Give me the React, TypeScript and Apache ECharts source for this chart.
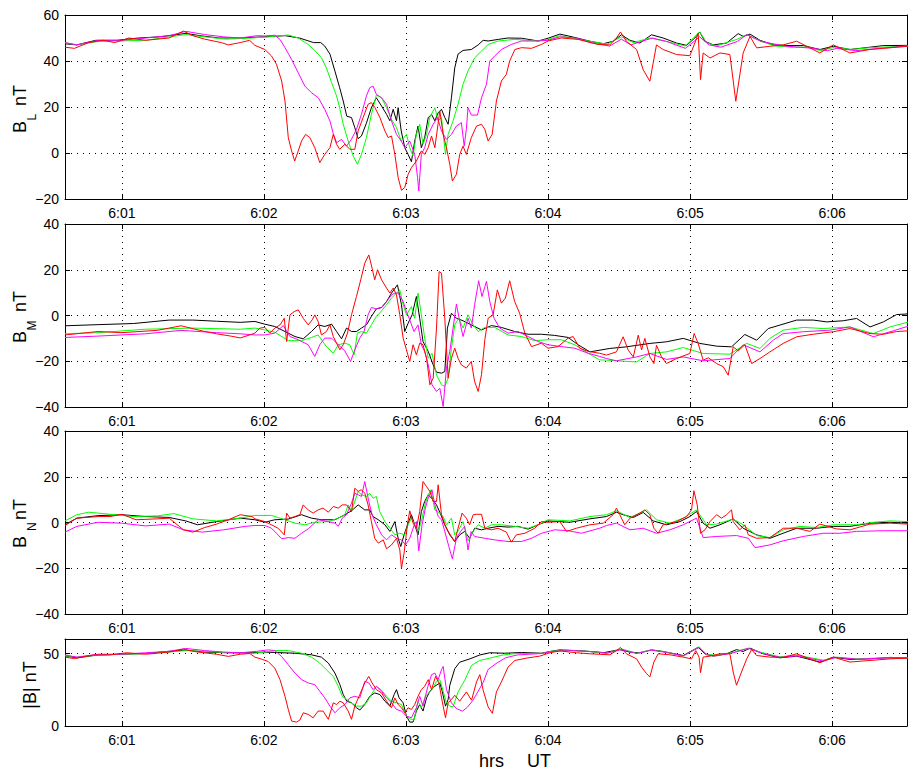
import React, { useEffect, useRef } from 'react';
import * as echarts from 'echarts';

// time in seconds after 06:00:00, value in nT  (flat: t, v, t, v, ...)
const xTickLabels = ['6:01', '6:02', '6:03', '6:04', '6:05', '6:06'];
const tStart = 36;
const tEnd = 391.6;
const seriesNames = ['C1', 'C2', 'C3', 'C4'];
const seriesColors = ['#000000', '#00ff00', '#ff00ff', '#ff0000'];

const blBlack = [36,47.5, 41,47, 49,49, 58,49, 67,50, 76,50.5, 87,52, 93,51, 101,50, 110,50, 120,50.5, 129,51, 135,50, 141,48, 144,48, 145.7,46.5, 147.9,43, 150,35.6, 152,28.4, 153.5,22.6, 155,16, 157,15.4, 158.4,11, 159.8,6.2, 161.2,7.4, 163.3,13, 165.4,19.7, 167.5,24, 169.7,20.4, 171.8,16.8, 173.2,14, 174.6,19, 176,14, 176.7,19.7, 178,9.6, 179.5,2.3, 180.9,-0.6, 182.3,-3.8, 183.7,5.2, 185.1,11.7, 186.5,2.3, 187.9,6.7, 189.4,15.4, 190.8,16.8, 192.2,14, 193.6,17.5, 195,19, 196.4,15.4, 197.8,12.5, 199.2,24, 200.6,37, 202,43, 204.1,44.6, 207.6,45, 210.5,47, 212.6,49, 214.7,48.7, 219,49.4, 223,50, 228.8,49.9, 235.8,48.7, 240,49.9, 245,51.7, 250.6,50.4, 257.7,48.6, 263.3,47.5, 267.5,48.6, 271,51.4, 274.6,49, 278.8,47.8, 283.7,51.4, 288.6,50, 294.3,47.8, 298.5,46.8, 302,50, 304.1,52.6, 306.2,48.6, 309.8,47, 315.4,47.8, 320.3,51.9, 322.4,50.7, 325.3,51.7, 329.5,49, 335.1,47, 342.2,46.7, 347.8,46.7, 354.8,45, 360.5,46.4, 367.5,45, 376,46, 381.6,46.7, 392,46.8];
const blGreen = [36,48, 41,47, 50,48.5, 70,49, 87,51.5, 95,50.5, 104,49.5, 115,50, 122,50.5, 130.3,51.3, 134.5,50, 138.7,47.2, 141.5,44.6, 144.3,41.4, 146.4,37, 148.6,30.6, 150.7,24.8, 152,19.7, 153.5,12.5, 155.6,5.2, 157.7,-1.3, 159.5,-4.9, 161.2,-0.6, 163.3,6.7, 165.4,16.8, 167.5,25.2, 169.7,24, 171.8,19.7, 173.9,14.6, 176,11, 178,5.2, 180.2,8.1, 181.6,2.3, 183,-1.3, 184.4,8.1, 185.8,12.5, 187.2,3.8, 188.7,8.1, 190,15.4, 192.2,19.7, 193.6,14, 195,15.4, 196.7,-0.6, 197.8,8.1, 199.9,14, 202,21.2, 204.1,29.9, 206.2,35.7, 209,41.4, 211.9,44.3, 214.7,47.2, 219,48.7, 226,49.4, 235.8,48.7, 240,49.4, 245,51, 250,50, 258,48.5, 265,47.3, 271,50.5, 276,48, 283,50, 290,48.5, 298,46.5, 304,52.7, 307,48, 311,46.5, 320,49.5, 324,51.5, 330,48.5, 336,46.5, 343,46, 350,46, 355,44.5, 361,46, 368,45, 376,45.8, 392,46.5];
const blMagenta = [36,48, 41,47, 50,49, 60,49, 70,50, 80,51, 87,52.9, 95,51.5, 103,50.5, 110,50, 117,51, 120.4,50.9, 124.6,51.2, 126.8,49.4, 128.9,45.8, 131.7,40.7, 134.5,34.9, 137.3,29.1, 140.1,26.2, 143,24, 145.7,19, 147.9,13.9, 149.3,8.4, 150.7,4.5, 152.8,5.9, 154.9,3, 157,6, 159.1,10.3, 161.2,16.8, 163.3,24.8, 164.7,28.4, 166.1,29.1, 167.5,25.5, 169.7,24, 171.8,21.2, 173.9,13.9, 176,8.1, 178,5.2, 179.5,2.3, 181.6,5.2, 183.7,-0.6, 184.9,-10.7, 185.4,-16.5, 186.5,-0.6, 187.9,2.3, 189.4,8.1, 191.5,12.5, 193.3,15.4, 195,9.6, 197.1,5.9, 199.2,8.1, 201.3,11.7, 203.4,13.2, 204.6,3, 205.5,10.3, 206.2,19.7, 207.6,16.5, 210.2,16.5, 211.9,24, 214,29.9, 215.4,40, 217.5,42.2, 220.3,45, 224.5,47.2, 228.8,48.7, 235.8,48.7, 240,49, 245,50.5, 252,50, 258,48, 266,46.5, 271,49.5, 275,47, 284,50, 290,48.5, 298,45.5, 304,50.5, 308,47, 313,46, 320,48.5, 324,51.5, 330,48.5, 340,46.5, 352,45.5, 358,44.5, 362,45.5, 370,44.5, 380,45.5, 392,46.5];
const blRed = [36,46, 40,45.5, 46,48, 52,49, 57,48, 63,50, 70,49, 80,50, 84,52, 86,53, 90,51, 95,49.5, 102,48, 105,47, 110,48, 114,49, 116.2,46.8, 120.4,45, 123.2,42.2, 125.3,38.6, 127.5,31.3, 128.9,22.6, 130.3,6.7, 131.7,0.9, 133,-3.5, 134.5,0.9, 135.9,5.2, 137.6,8.1, 139.4,6.7, 141.5,2.3, 143.6,-4.2, 145.7,-0.6, 147.9,2.3, 149.3,8.1, 150.7,3.8, 152,1.6, 154.2,3.8, 156.3,1.6, 158.4,1.6, 159.8,9.6, 161.9,15.4, 164,21.2, 165.4,21.9, 166.9,19.7, 169,15.4, 171.1,9.6, 172.5,6.7, 173.9,7.4, 175.3,-0.6, 176.7,-10.7, 178.1,-16.2, 179.5,-15, 180.9,-9.3, 182.3,-6.4, 184.4,-3.5, 186.5,0.9, 187.9,-0.6, 189.4,2.3, 190.8,7.4, 192.2,2.3, 194.3,18.3, 195.7,8.1, 197.1,2.3, 198.5,-4.9, 199.6,-12.2, 201.3,-9.3, 202.7,-0.6, 204.1,3, 205.5,-0.6, 207.6,6.7, 209.8,11.7, 211.9,12.5, 213.3,10.3, 214.7,5.2, 216.4,8.1, 218.2,22.6, 220.3,31.3, 222.4,34.2, 223.8,40, 226,45, 228.8,45.8, 233,45.5, 237.2,47.2, 240,48.7, 245.6,50, 252.7,49.4, 261.1,47.2, 266.1,47, 268.9,50, 270.6,52.6, 273.1,48.6, 277.4,45, 280.2,36.2, 283,31.2, 284.4,39.1, 285.8,47, 288.6,45, 294.3,42.8, 299.9,42.3, 302,47.8, 303.4,52, 304.4,31.9, 305.5,43.5, 308.4,41.3, 312.6,43.5, 316.8,42.8, 319.3,22.5, 322.4,43.5, 325.3,50.7, 328.1,45.7, 333.7,46.4, 339.3,47, 345,48.6, 350.6,45.7, 354.8,43.5, 360.5,47, 367.5,43.5, 376,45, 381.6,45.5, 392,46.4];

const bmBlack = [36,-4.5, 50,-4, 65,-3.5, 80,-2, 90,-2, 100,-2.5, 110,-3, 116.2,-2.6, 120.4,-3.8, 124.6,-4.8, 128.9,-7, 133.1,-9.2, 136.6,-10.2, 140.1,-7, 142.9,-4.1, 145.7,-4.8, 148.6,-3.8, 150.7,-7, 152.8,-10.2, 154.9,-5.5, 157,-7, 159.1,-7, 161.2,-5.5, 163.3,-4.1, 165.4,-0.4, 167.5,2.9, 169.7,3.5, 171.8,6.1, 173.9,9.8, 176.4,13.4, 178.1,4.7, 179.5,-7, 180.9,-3.4, 182.6,0.3, 184.4,8.3, 185.8,-1.2, 187.2,-11.4, 189.4,-15.7, 191.5,-21.6, 192.9,-24.8, 195,-25.2, 196.4,-24.5, 197.5,-5.5, 199.2,1, 201.3,-1.2, 204.1,-2.3, 207.6,-4.1, 211.9,-6.3, 216.1,-4.4, 220.3,-5.2, 225.9,-7, 231.6,-8.2, 237.2,-8.2, 242.8,-8.7, 248.5,-9.6, 252.7,-12.8, 257.7,-15.9, 266.1,-14.4, 273.1,-13.7, 283,-12.2, 290,-11.5, 297.1,-10, 304.1,-12.2, 311.2,-13.4, 317.5,-13.7, 323.1,-8.3, 328.1,-10.8, 333,-5.7, 337.9,-4.2, 345,-2, 352,-2, 357.7,-2.8, 364.7,-2.3, 370.3,-1.3, 376,-5, 381.6,-2.8, 387.2,0.4, 392,0.7];
const bmGreen = [36,-8, 50,-7.5, 70,-6, 90,-5.5, 110,-6, 116.2,-5.5, 120.4,-6.3, 124.6,-7.3, 130.3,-11, 135.9,-11, 140.1,-9.6, 142.9,-8.5, 146.4,-13.6, 149.3,-16.5, 151.4,-12.8, 154.2,-12.1, 156.3,-12.8, 158.1,-17.2, 159.5,-7.7, 161.2,-7, 163.3,-7.7, 165.4,-4.1, 167.5,-0.4, 169.7,2, 171.8,4.7, 173.9,7.6, 176,9.8, 177.4,11.2, 178.8,4.7, 180.2,0.3, 182.3,3.9, 183.7,-1.2, 185.1,9.8, 186.5,0.3, 187.9,-9.9, 189.4,-18.7, 191,-16.5, 192.9,-26, 195,-30.3, 196.4,-31, 197.8,-27.4, 199.2,-14.3, 200.6,-4.1, 202.3,-1.2, 204.1,-5.5, 206.2,0.3, 208.4,-4.1, 210.5,-7, 213.3,-5.2, 217.5,-5.2, 223.1,-8.5, 228.8,-9.2, 234.4,-11, 240,-10.6, 245.6,-10.6, 251.3,-12.8, 256.9,-16.5, 261.8,-19.4, 264.7,-19.5, 268.9,-19.8, 277.4,-20.3, 283,-16.6, 290,-15.9, 297.1,-14, 305.5,-16.6, 316.8,-16.9, 323.9,-12.2, 329.5,-14.4, 333.7,-10, 339.3,-6.4, 347.8,-5.2, 356.2,-5.7, 367.5,-5, 377.4,-7.9, 384.4,-5, 392,-2.9];
const bmMagenta = [36,-9.6, 50,-9, 70,-8, 85,-6.5, 100,-7.5, 110,-8, 116.2,-8.5, 120.4,-8.5, 124.6,-7.7, 128.2,-4.4, 131,-9.2, 134.5,-10.6, 138.7,-12.8, 141.5,-17.9, 143.6,-12.8, 145.7,-9.9, 148.6,-9.9, 151.4,-12.8, 154.2,-15.5, 156.6,-20.1, 158.4,-15, 160.5,-9.9, 162.3,-7, 164,0.3, 165.4,3.5, 167.5,2.9, 169.7,3.5, 171.8,6.1, 173.9,9, 175.3,9.8, 176.7,9.8, 178.8,6.1, 180.2,1.7, 181.6,-1.9, 183.4,-7, 185.1,-4.1, 186.5,-12.8, 187.9,-15.7, 189.4,-21.6, 191,-30.3, 192.9,-33.2, 194.3,-31.8, 195.7,-39.8, 197.1,-23, 198.5,-15.7, 199.9,-5.5, 201.3,5, 202.7,-2.6, 204.1,-9.2, 206.2,-1.2, 207.6,-5.5, 209,4.7, 210.7,15.2, 212.1,8.3, 214,14.9, 215.4,6.1, 217.2,-1.2, 219.6,-5.5, 223.1,-7.7, 227.3,-7, 231.6,-9.2, 235.8,-11.4, 240,-12.8, 245.6,-13.6, 251.3,-14.3, 256.9,-16.5, 261.8,-17.9, 264.7,-18.8, 268.9,-19.8, 277.4,-18.1, 283,-16.6, 290,-19.2, 297.1,-18.1, 305.5,-19.8, 316.8,-18.8, 322.4,-12.8, 329.5,-15.9, 335.1,-10.8, 339.3,-7.9, 347.8,-7.1, 359.1,-6.4, 367.5,-5, 377.4,-9.3, 385.8,-6.7, 392,-4.7];
const bmRed = [36,-8.5, 50,-7, 60,-7.5, 75,-6.5, 85,-4.5, 95,-7, 100,-8, 106,-9, 110,-9.8, 114,-8.5, 116.2,-7.7, 118.3,-5.5, 120.4,-5.2, 122.5,-7.7, 124.6,-5.5, 126.8,-4.1, 128.6,-1.2, 129.6,-11.4, 131,0.3, 132.8,1.7, 134.5,2.5, 136.6,-1.2, 138.7,-4.1, 140.4,-1.9, 141.5,0.3, 142.9,-2.6, 144.3,-8.5, 146.4,-7, 147.9,-4.1, 149.3,-9.2, 150.7,-12.1, 152.1,-15, 153.5,-12.8, 155.3,-7.7, 157,0.3, 159.1,8.3, 160.9,15.6, 162.6,22.9, 164.3,26.5, 165.7,20.7, 166.8,15.6, 168,20, 169.7,15.6, 171.8,12, 173.2,9.8, 174.6,12, 176,9, 177.4,0.3, 178.8,-9.9, 180.2,-15, 181.6,-20.1, 183,-12.8, 184.4,-17.2, 185.8,-12.1, 187.2,-12.8, 188.7,-18.7, 190.1,-30.3, 191.5,-27.4, 192.9,-5.5, 194,19.2, 195,18.5, 196.4,-1.2, 197.8,-27.4, 199.2,-18.7, 200.6,-14.3, 202,-18.7, 203.4,-21.6, 205.5,-23, 207.6,-20.1, 209,-28.9, 210.5,-33.2, 211.9,-25.9, 213.3,-10.6, 214.7,-1.2, 216.8,0.3, 218.6,11.2, 220.3,5.4, 222,7.6, 223.8,15.2, 225.9,6.1, 228,1, 230.2,-7.7, 233,-13.6, 237.2,-12.1, 240,-14.3, 244.2,-13.6, 248.5,-9.9, 250.6,-9.2, 253.4,-14.3, 256.9,-15.7, 261.8,-16.5, 264.7,-17.3, 268.9,-15.9, 271.7,-9.3, 273.9,-15.2, 276,-18.1, 278.1,-8.6, 279.5,-15, 280.9,-10, 283,-18.1, 284.7,-21, 285.8,-13, 287.9,-18, 290,-21, 294.3,-18.8, 299.9,-16.6, 301.7,-7.9, 303.4,-12.2, 305.5,-19.5, 307.7,-18.5, 311.2,-21, 314,-22.4, 316.1,-26.1, 318.2,-13.7, 320.3,-15.5, 323.1,-12.8, 326,-21, 329.5,-18.8, 333.7,-15.9, 339.3,-12.2, 345,-9.3, 352,-8.2, 360.5,-7.1, 367.5,-5.7, 376,-7.9, 381.6,-8.2, 387.2,-7, 392,-6.7];

const bnBlack = [36,-1, 41,1.9, 50,3, 60,3.4, 70,2.6, 80,2.2, 87,0.7, 92,-1, 100,0.4, 110,1.9, 116.2,1.2, 120.4,0.1, 124.6,1.2, 130.3,1.5, 135.9,3.4, 140.1,1.9, 144.3,1.2, 150,1.2, 154.2,3.4, 157,5.1, 159.8,7.7, 162.6,5.5, 164.7,5.5, 166.1,2.6, 168.3,1.2, 171.1,-1, 173.2,-3.9, 175.3,0.4, 176.7,-6.9, 177.8,-10.5, 179.2,-5.4, 180.9,-0.3, 182.3,3.4, 183.7,-1, 185.1,-5.4, 186.5,4.8, 187.9,9.2, 189.4,12.1, 190.8,10.6, 192.9,7.7, 194.3,4.5, 196.4,-1, 198.5,-5.4, 200.6,-8.3, 202.7,-5.4, 204.8,-3.9, 206.9,-6.9, 209,-2.5, 211.9,-3.2, 214.7,-2.5, 218.9,-1.7, 223.1,-2, 227.3,-1.7, 231.6,-2.9, 235.8,-1, 240,0.7, 249.2,0.1, 257.7,1.6, 264.7,2.6, 268.9,4.5, 271.7,3.4, 276,2.2, 280.2,4.4, 284.4,0.7, 290,-1, 295.7,0.4, 299.9,2.6, 302.7,4.8, 305.5,-0.3, 308.4,-2.5, 312.6,-1, 318.2,1.6, 322.4,-2.5, 328.1,-5.4, 333.7,-6.9, 339.3,-4.7, 345,-2.5, 353.4,-2.5, 360.5,-1.7, 367.5,-1.7, 376,-0.3, 384.4,0.1, 392,-0.3];
const bnGreen = [36,0.7, 41,3.4, 46,4.5, 55,3.6, 65,2.6, 75,2.9, 82,3.9, 90,1.6, 100,0.7, 110,1.9, 116.2,3.1, 123.2,3.1, 128.9,1.2, 133.1,-0.3, 137.3,-1, 141.5,0.1, 147.2,0.4, 151.4,1.9, 154.2,3.4, 155.6,7.7, 157,5.1, 158.4,9.2, 159.8,13.6, 161.2,12.1, 163.3,11.4, 164.7,12.8, 166.1,10.6, 167.5,11.4, 168.9,4.8, 171.1,0.4, 173.2,-2.5, 175.3,-5.4, 177.4,-4.7, 179.5,-5.4, 180.9,-1, 182.3,1.9, 183.7,-1, 185.1,-3.9, 186.5,0.4, 188.2,8.5, 189.4,12.1, 190.5,14.3, 192.2,5.5, 194.3,4.1, 195.7,2.6, 197.1,-1, 199.2,1.9, 200.6,-5.4, 202.3,-3.2, 204.1,0.4, 206.2,-8, 208.4,-3.9, 210.5,-1, 213.3,-2.5, 216.1,-1, 220.3,-1, 225.9,-1.7, 231.6,-2.5, 235.8,-1, 240,1.2, 249.2,0.7, 257.7,2.6, 264.7,3.4, 268.9,5.1, 274.6,2.2, 281.6,5.5, 285.8,1.2, 291.5,-0.3, 297.1,1.9, 302.7,5.5, 307,-1, 311.2,-0.7, 318.2,1.5, 322.4,-1, 328.1,-5.7, 333.7,-6.6, 339.3,-3.2, 346.4,-1.7, 353.4,-2.2, 360.5,-1, 370.3,-1, 377.4,0.1, 384.4,0.7, 392,0.4];
const bnMagenta = [36,-4.2, 41,-1.7, 50,0.1, 60,-0.3, 70,-1.5, 80,-0.7, 86,-3.2, 94,-4.2, 103,-3.2, 112,-1.7, 116.2,-1.3, 120.4,-1.3, 123.2,-2.5, 125.3,-4.7, 127.5,-7.1, 130.3,-6.6, 133.1,-6.9, 135.9,-4.7, 138.7,-2.8, 142.9,1.2, 147.2,0.4, 150,-0.3, 151.4,-1.7, 153.1,1.9, 154.9,3.4, 157,8.5, 158.4,12.8, 159.8,12.1, 161.2,11.4, 162.6,17.9, 164.3,9.2, 165.7,3.4, 167.5,-1, 169.7,-5.4, 171.8,-7.6, 173.9,-5.4, 176,-6.9, 178.1,-7.6, 179.8,-9.8, 181.6,-6.9, 183.5,-1, 184.4,0.4, 185.4,-12.4, 186.8,-1, 188.2,6.3, 189.6,11.4, 191,14.3, 192.2,7.7, 193.6,2.6, 195,1.2, 196.4,-3.9, 198.1,-10.5, 199.6,-15.9, 201.3,-6.9, 203.1,-3.9, 204.8,-1.7, 206.2,-12, 207.5,-4, 209,-6.1, 213.3,-6.9, 217.5,-7.6, 223.1,-8.3, 228.8,-8.3, 233,-6.9, 237.2,-4.7, 242.8,-3.2, 248.5,-3.6, 254.1,-4.7, 261.8,-2.5, 264.7,-1.3, 268.9,-0.3, 274.6,-3.2, 280.2,-2.5, 285.8,-4.7, 291.5,-3.2, 297.1,-1, 302.7,1.9, 305.5,-6.6, 311.2,-6.1, 319.6,-5.7, 324.6,-6.9, 327.4,-11, 333.7,-9.8, 339.3,-8, 347.8,-6.1, 356.2,-4.7, 363.3,-4.7, 370.3,-3.9, 381.6,-3.6, 392,-3.6];
const bnRed = [36,-1.3, 41,1.9, 50,2.6, 55,2.6, 60,3.6, 66,1.2, 75,1.6, 80,1.9, 86,-3.2, 90,-4.2, 95,-2.2, 100,-0.7, 105,1.2, 110,3.4, 115,2.6, 116.2,1.6, 120.4,0.4, 123.2,-1, 126,-2.5, 128.6,-5.4, 129.6,4.1, 131,1.9, 133.1,2.6, 135.2,3.4, 136.6,7.7, 138.7,5.5, 140.8,4.1, 142.9,5.5, 145,6.3, 147.2,4.5, 149.3,7, 151.4,6.3, 153.1,7.7, 154.9,7.7, 157,4.8, 158.4,15, 159.8,13.6, 161.2,14.3, 162.6,12.8, 164,7.7, 165.4,0.4, 166.8,-6.9, 168.3,-9, 170.4,-7.6, 171.8,-11.5, 173.9,-9.8, 176,-6.9, 177.4,-12, 178.1,-20, 179.2,-13.4, 180.6,-1, 181.6,5.1, 183,-0.3, 184.4,-2.5, 185.8,4.8, 187.2,17.9, 188.7,15.7, 190.1,13.6, 191.5,9.2, 192.9,9.2, 193.6,16.5, 195,3.4, 196.4,-1, 197.8,-3.9, 199.2,-6.1, 200.6,-8.3, 202,-2.5, 203.7,4.1, 205.5,1.9, 206.9,-1, 208.4,3.4, 209.8,3.6, 211.9,3.6, 213.3,-2.5, 216.1,-3.2, 218.9,-2.5, 222.4,-4.2, 224.5,-8.6, 226.6,-5.4, 230.2,-4.7, 234.4,-2.5, 237.2,0.4, 240,0.1, 245,0.4, 247.8,-3.9, 252,-2.5, 257.7,-1, 263.3,-0.3, 267.5,3.4, 268.9,6.3, 270.3,3.4, 272.4,-1, 274.6,1.9, 278.8,4.1, 280.9,5.5, 283,3.4, 284.7,-2.5, 286.5,-4.7, 288.6,-1, 294.3,0.4, 298.5,2.6, 300.6,5.5, 301.6,13.9, 303,7.7, 304.4,-4.7, 306.3,-3.2, 308.4,0.4, 311.2,3.4, 313.3,1.9, 315.4,3.4, 317.5,5.5, 318.2,0.4, 321,-3.2, 323.1,-1, 324.6,-5.4, 328.1,-6.9, 333.7,-6.6, 339.3,-2.5, 345,-2.5, 350.6,-3.9, 354.8,-0.7, 361.8,-2.8, 367.5,-3.2, 376,-0.7, 384.4,-0.3, 392,-0.7];

const btBlack = [36,48.4, 41,47, 50,49, 60,49.5, 70,50, 80,51.5, 87,52.3, 95,51, 105,50.5, 115,50.5, 120,51, 124.6,50.7, 133.1,50.2, 140.1,49.1, 144.3,47.5, 147.2,43.4, 150,36.5, 152.1,28.5, 153.5,21.7, 155,17.1, 157,16, 159.1,12.6, 160.5,11, 162.6,14.8, 164.7,20.5, 166.8,22.8, 169,21.7, 171.1,17.1, 173.2,13.7, 175,21.7, 176,25.1, 177.1,19.4, 178.8,16, 180.2,6.8, 181.6,2.7, 183,2.7, 184.4,10.3, 185.8,14.8, 187.2,10.3, 188.7,19.4, 190.1,24, 192.2,27.4, 194.3,29.7, 195.3,24, 196.7,13.7, 197.8,18.3, 198.5,28, 200.6,39.5, 202.7,44, 207,46.3, 211.2,49, 215.4,50.5, 221.7,50.2, 228.8,50.7, 237.2,50.2, 240.8,51.4, 245,52.5, 254.8,51.8, 263.3,50.5, 270.3,52.7, 274.6,50.9, 278.8,50.5, 283.7,52.5, 288.6,51.4, 297.1,48.6, 303.4,54.3, 306.2,49.8, 309.8,48.2, 315.4,49.8, 319.6,52.7, 322.4,51.4, 325.3,53.7, 330.9,49.8, 337.9,47, 345,48.2, 354.8,44.1, 360.5,47.5, 367.5,45.9, 376,46.3, 384.4,47.3, 392,47];
const btGreen = [36,48.5, 41,47.5, 50,49, 60,49.5, 70,50, 80,51, 87,52, 95,51.5, 105,50.5, 115,50, 120,51, 124.6,52, 130.3,52, 135.9,50.2, 140.1,47.5, 143.6,43.4, 146.4,38.8, 149.3,34.2, 151.4,27.4, 153.1,20.5, 155,18.3, 157,16, 159.1,13.7, 161.2,13.7, 163.3,16, 165.4,21.7, 167.5,27.4, 169.7,24.7, 171.8,20.5, 173.9,17.1, 176,16, 178.1,14.8, 180.2,6.8, 181.6,5, 183.4,4, 185.1,17.1, 186.5,12.6, 188.2,20.5, 189.6,22.8, 191,25.1, 192.9,30.8, 194.3,32, 195.7,24, 197.1,16, 198.5,13.7, 199.9,13.2, 202,23.5, 204.8,31.5, 207.7,41.8, 211.2,45.2, 215.4,46.8, 221,49, 226.7,50, 237.2,50, 240.8,51.4, 246.4,52.3, 257.7,51.4, 264.7,50, 271,53.2, 277.4,50.2, 283.7,52.5, 290,50.9, 297.1,48.2, 303.8,54.6, 307,49.3, 311.2,48.9, 318.2,50.7, 321,52.3, 324.6,53.4, 330.2,50.7, 337.9,47.7, 345,48.9, 356.2,45.4, 361.8,47.5, 370.3,46.3, 381.6,47, 392,47];
const btMagenta = [36,49, 41,47.5, 50,49.5, 60,49.5, 70,50.5, 80,51.5, 87,53.5, 95,52, 103,51, 110,50.5, 117,51.5, 121.8,52.5, 124.6,52, 127.5,47.9, 130.3,42.2, 133.1,36.5, 135.9,32, 138.7,29.7, 141.5,28.5, 143.6,24, 145.7,19.4, 147.9,13.7, 150,9.1, 152.1,12.6, 154.2,14.8, 156.3,19.4, 158.4,20.5, 160.5,19.4, 162.6,30.8, 164.3,29.7, 166.1,25.1, 167.5,27.4, 169.7,24, 171.8,19.4, 173.9,16, 176,11.4, 178.1,10.3, 180.2,6.8, 182.3,5.7, 184.4,12.6, 185.8,20.5, 187.2,13.7, 189.1,26.3, 190.8,35.4, 192.2,36.5, 193.6,32, 195,38.8, 195.7,41.1, 197.1,25.1, 199.2,16, 201.3,12, 203.9,10.3, 206,13, 208.4,18, 210.5,24, 212.6,30, 214.7,39, 218,43, 222,47, 227,49, 237.2,50, 242.8,51.6, 249.9,52, 261.8,51, 264.7,50.2, 271,52.7, 277.4,50, 283.7,52.3, 290,50.7, 297.1,48.4, 303.8,54.1, 307,49, 311.2,48.4, 318.2,50.5, 321,51.8, 324.6,53.7, 330.2,50.2, 337.9,47.3, 345,48.4, 356.2,44.8, 361.8,47.3, 370.3,46.1, 381.6,46.8, 392,47];
const btRed = [36,47.5, 40,46.5, 48,49, 55,49, 62,50.5, 70,49.5, 80,51, 86,53, 92,51, 100,49.5, 105,48, 110,49.5, 114,50, 116.2,47.5, 119,46.1, 121.8,44.5, 124.6,39.9, 126.8,32, 128.9,20.5, 130.3,11.4, 131.7,3.4, 133.8,2.7, 135.2,4.1, 136.6,9.1, 138.7,8, 140.8,5.7, 142.9,10.3, 145,10.3, 147.2,4.6, 149.3,16, 150.7,14.8, 152.1,17.1, 153.5,16, 155.6,10.3, 157,4.6, 158.4,13.7, 160.5,21.7, 162.6,29.7, 164.3,34.2, 165.7,29.7, 167.5,25.1, 169.7,22.8, 171.8,17.1, 173.9,12.6, 175.3,19.4, 176.7,14.8, 178.1,12.6, 179.5,9.1, 180.9,12.6, 182.3,11.4, 183.7,14.8, 185.1,20.5, 186.5,25.1, 187.9,27.4, 189.4,32, 190.8,25.1, 192.5,34.2, 193.9,29.7, 195.3,17.1, 196.7,5.7, 197.8,16, 199.2,18.3, 200.6,21.2, 202.7,17.1, 205.5,23.5, 207.7,17.8, 209.8,30.4, 211.2,35.4, 212.6,24.7, 214.7,13.2, 216.5,8.7, 218.2,23.5, 220.3,30.4, 223.1,40.6, 226,45.2, 230.9,46.8, 236.5,48.2, 240.8,50.5, 245,51.8, 252,50.5, 257.7,49.8, 266.1,49.1, 268.9,52, 270.6,54.1, 273.1,49.8, 277.4,46.3, 279.5,40.6, 281.6,36.1, 283,33.8, 284.7,44.1, 286.5,49.8, 291.5,49.1, 297.1,47.5, 300.6,46.3, 302.4,52, 303.8,47.5, 304.4,36.8, 305.5,47.5, 308.4,48.2, 312.6,49.8, 316.8,49.8, 318.2,37.2, 319.6,28.1, 321.7,37.2, 323.9,46.3, 326,52.7, 328.1,48.6, 333.7,47.5, 339.3,47.3, 345,49.8, 350.6,46.3, 354.8,43.6, 360.5,47.5, 367.5,44.1, 376,45.2, 384.4,46.3, 392,46.8];

const panelData = [
  [blBlack, blGreen, blMagenta, blRed],
  [bmBlack, bmGreen, bmMagenta, bmRed],
  [bnBlack, bnGreen, bnMagenta, bnRed],
  [btBlack, btGreen, btMagenta, btRed],
];
const yRanges = [
  { min: -20, max: 60, interval: 20 },
  { min: -40, max: 40, interval: 20 },
  { min: -40, max: 40, interval: 20 },
  { min: 0, max: 60, interval: 50 },
];

// layout (pixels)
const gridBoxes = [
  { top: 15, height: 184 },
  { top: 224, height: 183 },
  { top: 431, height: 183 },
  { top: 639, height: 87 },
];
const FONT = '"Liberation Sans", Arial, Helvetica, sans-serif';

function toPairs(flat: number[]) {
  const out: number[][] = [];
  for (let i = 0; i < flat.length; i += 2) out.push([flat[i] / 60, flat[i + 1]]);
  return out;
}

function rotText(text: string, x: number, y: number, size: number, align = 'left') {
  return {
    type: 'text', x, y, rotation: Math.PI / 2, silent: true,
    style: { text, fontSize: size, fontFamily: FONT, fill: '#000', align, verticalAlign: 'middle' },
  };
}

function buildOption() {
  const dotted = { color: '#000', width: 1, type: [1, 5] };
  const grid = gridBoxes.map((g) => ({ left: 65, right: 1, top: g.top, height: g.height, containLabel: false, outerBoundsMode: 'none' }));
  const xAxis: any[] = [];
  const yAxis: any[] = [];
  const series: any[] = [];
  gridBoxes.forEach((_, i) => {
    const common = {
      gridIndex: i, type: 'value', min: tStart / 60, max: tEnd / 60, minInterval: 1, maxInterval: 1,
      axisLine: { show: true, onZero: false, lineStyle: { color: '#000', width: 1 } },
      axisTick: { show: true, inside: true, length: 5, lineStyle: { color: '#000', width: 1 } },
    };
    xAxis.push({
      ...common, position: 'bottom',
      axisLabel: {
        show: true, showMinLabel: false, showMaxLabel: false, color: '#000', fontSize: 14, fontFamily: FONT, margin: 7,
        formatter: (v: number) => { const m = Math.round(v); return Math.abs(v - m) < 1e-6 && xTickLabels[m - 1] ? xTickLabels[m - 1] : ''; },
      },
      splitLine: { show: true, lineStyle: dotted },
    });
    xAxis.push({ ...common, position: 'top', axisLabel: { show: false }, splitLine: { show: false } });
    const yr = yRanges[i];
    const yCommon = {
      gridIndex: i, type: 'value', min: yr.min, max: yr.max, interval: yr.interval,
      axisLine: { show: true, onZero: false, lineStyle: { color: '#000', width: 1 } },
      axisTick: { show: true, inside: true, length: 5, lineStyle: { color: '#000', width: 1 } },
    };
    yAxis.push({
      ...yCommon, position: 'left',
      axisLabel: {
        show: true, color: '#000', fontSize: 14, fontFamily: FONT, margin: 6, showMaxLabel: i !== 3,
        formatter: (v: number) => (v < 0 ? '\u2212' + -v : String(v)),
      },
      splitLine: { show: true, lineStyle: dotted },
    });
    yAxis.push({ ...yCommon, position: 'right', axisLabel: { show: false }, splitLine: { show: false } });
    panelData[i].forEach((arr, k) => {
      series.push({
        name: seriesNames[k] + '_' + i, type: 'line', xAxisIndex: i * 2, yAxisIndex: i * 2,
        data: toPairs(arr), showSymbol: false, symbol: 'none', clip: true,
        lineStyle: { color: seriesColors[k], width: 1 }, itemStyle: { color: seriesColors[k] },
        emphasis: { disabled: true }, silent: true,
      });
    });
  });

  const graphic = [
    rotText('B', 20, 133, 18), rotText('L', 31.5, 120.5, 12), rotText('nT', 20, 106, 18),
    rotText('B', 20, 343, 18), rotText('M', 31.5, 330.5, 12), rotText('nT', 20, 312, 18),
    rotText('B', 20, 548, 18), rotText('N', 31.5, 531, 12), rotText('nT', 20, 520, 18),
    rotText('|B| nT', 29.5, 685, 18, 'center'),
    { type: 'text', x: 479, y: 761, silent: true, style: { text: 'hrs', fontSize: 18, fontFamily: FONT, fill: '#000', align: 'left', verticalAlign: 'middle' } },
    { type: 'text', x: 527, y: 761, silent: true, style: { text: 'UT', fontSize: 18, fontFamily: FONT, fill: '#000', align: 'left', verticalAlign: 'middle' } },
  ];

  return { animation: false, backgroundColor: '#ffffff', grid, xAxis, yAxis, series, graphic, tooltip: { show: false } };
}

export default function App() {
  const ref = useRef<HTMLDivElement>(null);
  useEffect(() => {
    document.body.style.margin = '0';
    document.body.style.padding = '0';
    if (!ref.current) return;
    const chart = echarts.init(ref.current, undefined, { renderer: 'svg' });
    chart.setOption(buildOption() as any);
    return () => chart.dispose();
  }, []);
  return <div ref={ref} style={{ width: 908, height: 770, margin: 0, background: '#fff' }} />;
}
